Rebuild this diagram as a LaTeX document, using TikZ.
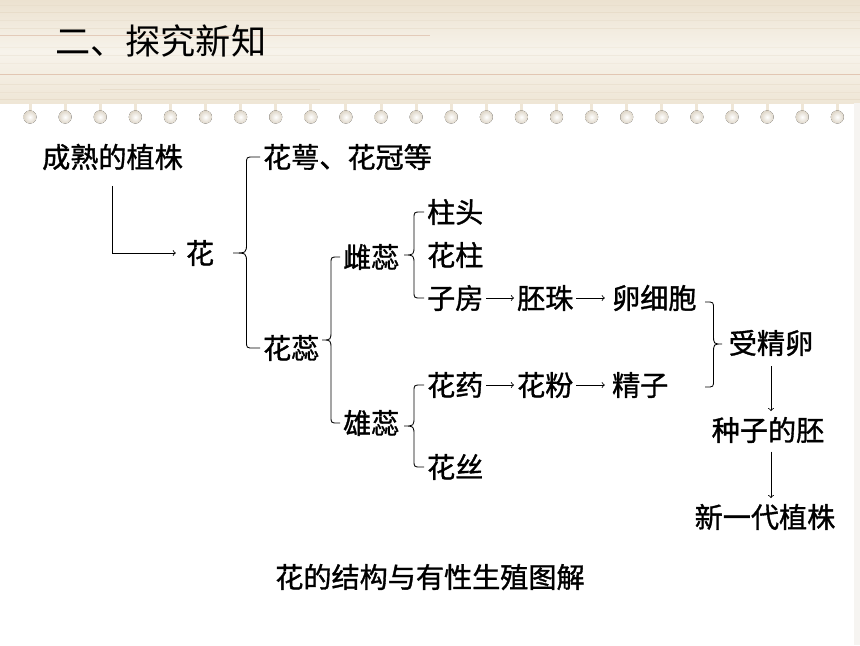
\documentclass[tikz,border=0pt]{standalone}
\usepackage{fontspec}
\usetikzlibrary{calc}
\newfontfamily\cjk{Noto Sans CJK SC}
\newfontfamily\cjkb[FakeBold=1.2]{Noto Sans CJK SC}
\definecolor{woodtop}{RGB}{236,226,208}
\definecolor{woodmid}{RGB}{247,243,235}
\definecolor{woodbot}{RGB}{239,230,214}
\definecolor{grain}{RGB}{226,213,192}
\definecolor{streak}{RGB}{200,140,110}
\definecolor{bead}{RGB}{222,214,200}
\definecolor{edge}{RGB}{246,244,241}

\newcommand{\brc}[4]{%
  \draw[brc] let \p1=(#1), \p2=(#2), \p3=(#3) in
    (\p1) -- ({(\x1+\x3)/2+(#4)},\y1)
    .. controls ({(\x1+\x3)/2},\y1) .. ({(\x1+\x3)/2},\y1-5pt)
    -- ({(\x1+\x3)/2},\y3+7pt)
    .. controls ({(\x1+\x3)/2},\y3) .. (\p3)
    .. controls ({(\x1+\x3)/2},\y3) .. ({(\x1+\x3)/2},\y3-7pt)
    -- ({(\x1+\x3)/2},\y2+5pt)
    .. controls ({(\x1+\x3)/2},\y2) .. ({(\x1+\x3)/2+(#4)},\y2) -- (\p2);}

\begin{document}
\begin{tikzpicture}[x=0.025cm, y=-0.025cm,
    txt/.style={font=\cjkb\fontsize{20}{24}\selectfont, inner sep=2pt},
    brc/.style={line width=0.6pt},
    arr/.style={->, line width=0.6pt}]
  \useasboundingbox (0,0) rectangle (860,645);

  \shade[top color=woodtop, bottom color=woodbot, middle color=woodmid] (0,0) rectangle (860,103);
  \foreach \y/\o in {5/0.3,12/0.5,20/0.3,28/0.4,47/0.2,55/0.3,63/0.2,84/0.4,92/0.3,99/0.5}
    \draw[grain, line width=0.4pt, opacity=\o] (0,\y) -- (860,\y);
  \draw[streak, line width=0.4pt, opacity=0.35] (0,35) -- (430,35);
  \draw[streak, line width=0.5pt, opacity=0.4] (0,74) -- (860,74);
  \draw[grain, line width=0.4pt, opacity=0.6] (100,89) -- (320,89);
  \fill[edge] (854,103) rectangle (860,645);
  \foreach \i in {0,...,23} {
    \fill[woodbot] ({30+35.1*\i-1.5},103) rectangle ++(3,9);
    \fill[inner color=white, outer color=bead] ({30+35.1*\i},117) circle (6.5);
  }

  \node[anchor=west, font=\cjk\fontsize{25}{30}\selectfont, inner sep=0] (title) at (55,41) {二、探究新知};

  \node[txt] (plant) at (112.5,157) {成熟的植株};
  \node[txt] (flower) at (200,253) {花};
  \node[txt, anchor=west] (sepal) at (260,157) {花萼、花冠等};
  \node[txt, anchor=west] (pistils) at (260,348) {花蕊};
  \node[txt, anchor=west] (pistil) at (340,257) {雌蕊};
  \node[txt, anchor=west] (stamen) at (340,423) {雄蕊};
  \node[txt, anchor=west] (stigma) at (424,212) {柱头};
  \node[txt, anchor=west] (stylus) at (424,255) {花柱};
  \node[txt, anchor=west] (ovary) at (424,298) {子房};
  \node[txt, anchor=west] (ovule) at (514,298) {胚珠};
  \node[txt, anchor=west] (egg) at (609,298) {卵细胞};
  \node[txt, anchor=west] (anther) at (424,385) {花药};
  \node[txt, anchor=west] (pollen) at (514,385) {花粉};
  \node[txt, anchor=west] (sperm) at (609,385) {精子};
  \node[txt, anchor=west] (filament) at (424,467) {花丝};
  \node[txt] (zygote) at (771,343) {受精卵};
  \node[txt] (embryo) at (768,430) {种子的胚};
  \node[txt] (offspring) at (765,517) {新一代植株};
  \node[txt] (caption) at (430,577) {花的结构与有性生殖图解};

  \coordinate (t1) at (233,253);
  \coordinate (t2) at (322,340);
  \coordinate (t3) at (404,255);
  \coordinate (t4) at (404,426);
  \coordinate (t5) at (722,344);
  \coordinate (r1) at (705,302);
  \coordinate (r2) at (705,387);

  \draw[arr, shorten >=5pt] ([yshift=-9pt]plant.south) |- (flower.west);
  \brc{sepal.west}{pistils.west}{t1}{5pt}
  \brc{pistil.west}{stamen.west}{t2}{5pt}
  \brc{stigma.west}{ovary.west}{t3}{5pt}
  \brc{anther.west}{filament.west}{t4}{5pt}
  \brc{r1}{r2}{t5}{-5pt}
  \draw[arr] (ovary) -- (ovule);
  \draw[arr, shorten >=3pt] (ovule) -- (egg);
  \draw[arr] (anther) -- (pollen);
  \draw[arr, shorten >=3pt] (pollen) -- (sperm);
  \draw[arr, shorten <=5pt, shorten >=2pt] (zygote.south) -- (zygote.south |- embryo.north);
  \draw[arr, shorten <=4pt, shorten >=2pt] (zygote.south |- embryo.south) -- (zygote.south |- offspring.north);
\end{tikzpicture}
\end{document}
